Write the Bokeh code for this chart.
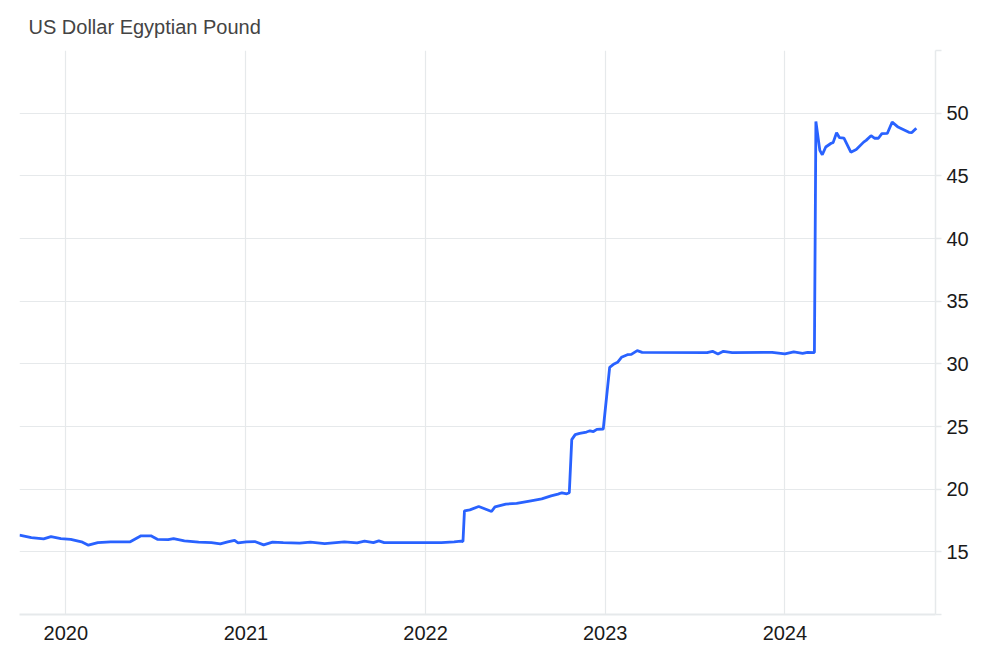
import pandas as pd
from bokeh.plotting import figure
from bokeh.models import FixedTicker, DatetimeTickFormatter, Range1d
from bokeh.embed import file_html
from bokeh.resources import INLINE

title_text = "US Dollar Egyptian Pound"

dates = [
    "2019-09-29", "2019-10-23", "2019-11-17", "2019-12-02", "2019-12-22",
    "2020-01-11", "2020-02-02", "2020-02-16", "2020-03-06", "2020-04-01",
    "2020-05-11", "2020-05-22", "2020-06-02", "2020-06-22", "2020-07-05",
    "2020-07-27", "2020-08-07", "2020-08-29", "2020-09-27", "2020-10-23",
    "2020-11-10", "2020-11-25", "2020-12-09", "2020-12-16", "2021-01-02",
    "2021-01-19", "2021-02-06", "2021-02-24", "2021-03-18", "2021-04-20",
    "2021-05-12", "2021-06-10", "2021-07-20", "2021-08-15", "2021-08-30",
    "2021-09-17", "2021-09-28", "2021-10-09", "2021-11-26", "2022-02-02",
    "2022-02-28", "2022-03-14", "2022-03-18", "2022-03-21", "2022-04-01",
    "2022-04-19", "2022-04-27", "2022-05-15", "2022-05-22", "2022-06-13",
    "2022-07-05", "2022-08-03", "2022-08-25", "2022-09-13", "2022-09-27",
    "2022-10-05", "2022-10-15", "2022-10-20", "2022-10-25", "2022-11-01",
    "2022-11-10", "2022-11-24", "2022-12-01", "2022-12-08", "2022-12-15",
    "2022-12-28", "2023-01-10", "2023-01-19", "2023-01-26", "2023-02-03",
    "2023-02-15", "2023-02-23", "2023-03-07", "2023-03-17", "2023-07-27",
    "2023-08-07", "2023-08-18", "2023-08-29", "2023-09-16", "2023-12-06",
    "2024-01-01", "2024-01-19", "2024-02-06", "2024-02-16", "2024-03-01",
    "2024-03-04", "2024-03-12", "2024-03-17", "2024-03-24", "2024-04-04",
    "2024-04-08", "2024-04-15", "2024-04-21", "2024-04-30", "2024-05-14",
    "2024-05-25", "2024-06-09", "2024-06-14", "2024-06-24", "2024-07-01",
    "2024-07-09", "2024-07-16", "2024-07-27", "2024-08-06", "2024-08-18",
    "2024-08-23", "2024-09-09", "2024-09-15", "2024-09-24",
]
rates = [
    16.33, 16.14, 16.04, 16.22, 16.06,
    16.00, 15.80, 15.53, 15.74, 15.80,
    15.80, 16.04, 16.28, 16.28, 16.00,
    15.98, 16.06, 15.88, 15.77, 15.74,
    15.64, 15.80, 15.92, 15.72, 15.80,
    15.82, 15.56, 15.77, 15.74, 15.70,
    15.77, 15.66, 15.80, 15.72, 15.85,
    15.74, 15.88, 15.74, 15.74, 15.74,
    15.80, 15.85, 15.82, 18.27, 18.35,
    18.62, 18.50, 18.22, 18.59, 18.81,
    18.86, 19.07, 19.23, 19.47, 19.60,
    19.71, 19.63, 19.71, 23.95, 24.35,
    24.45, 24.56, 24.66, 24.60, 24.77,
    24.80, 29.72, 29.99, 30.12, 30.52,
    30.73, 30.75, 31.05, 30.92, 30.90,
    31.00, 30.79, 31.00, 30.90, 30.92,
    30.79, 30.95, 30.84, 30.92, 30.90,
    49.34, 47.03, 46.68, 47.30, 47.60,
    47.65, 48.44, 48.04, 48.00, 46.89,
    47.10, 47.69, 47.83, 48.20, 48.00,
    48.00, 48.36, 48.38, 49.29, 48.89,
    48.80, 48.47, 48.45, 48.80,
]

year_ticks = ["2020-01-01", "2021-01-01", "2022-01-01", "2023-01-01", "2024-01-01"]
y_ticks = [10, 15, 20, 25, 30, 35, 40, 45, 50, 55]
x_start, x_end = "2019-09-29", "2024-11-02"
y_start, y_end = 10, 55

x = pd.to_datetime(dates)
to_ms = lambda s: pd.Timestamp(s).value / 1e6

p = figure(
    width=1004, height=658, x_axis_type="datetime", y_axis_location="right",
    output_backend="svg", toolbar_location=None,
    x_range=Range1d(to_ms(x_start), to_ms(x_end)),
    y_range=Range1d(y_start, y_end),
    min_border_left=19, min_border_right=69, min_border_top=49, min_border_bottom=44,
    title=title_text,
)
p.outline_line_color = None
p.background_fill_color = "white"
p.border_fill_color = "white"

p.title.text_font = "Liberation Sans"
p.title.text_font_size = "20px"
p.title.text_font_style = "normal"
p.title.text_color = "#444444"
p.title.text_line_height = 0.8
p.title.offset = 9
p.title.standoff = 26

p.line(x, rates, line_color="#2962ff", line_width=2.8)

grid_color = "#e6e9eb"

xa = p.xaxis[0]
xa.ticker = FixedTicker(ticks=[to_ms(t) for t in year_ticks])
xa.formatter = DatetimeTickFormatter(years="%Y", months="%Y", days="%Y", hours="%Y")
xa.axis_line_color = grid_color
xa.axis_line_width = 2
xa.major_tick_line_color = None
xa.minor_tick_line_color = None
xa.major_tick_out = 0
xa.major_label_standoff = 11
xa.major_label_text_font = "Liberation Sans"
xa.major_label_text_font_size = "20px"
xa.major_label_text_color = "#1a1a1a"

ya = p.yaxis[0]
ya.ticker = FixedTicker(ticks=y_ticks)
ya.major_label_overrides = {10: "", 55: ""}
ya.axis_line_color = grid_color
ya.axis_line_width = 1.5
ya.major_tick_line_color = grid_color
ya.major_tick_line_width = 1.5
ya.major_tick_out = 6
ya.major_tick_in = 0
ya.minor_tick_line_color = None
ya.major_label_standoff = 5
ya.major_label_text_font = "Liberation Sans"
ya.major_label_text_font_size = "20px"
ya.major_label_text_color = "#1a1a1a"

p.xgrid.grid_line_color = grid_color
p.xgrid.grid_line_width = 1.2
p.ygrid.grid_line_color = grid_color
p.ygrid.grid_line_width = 1.2

open("out.html", "w").write(file_html(p, INLINE))
